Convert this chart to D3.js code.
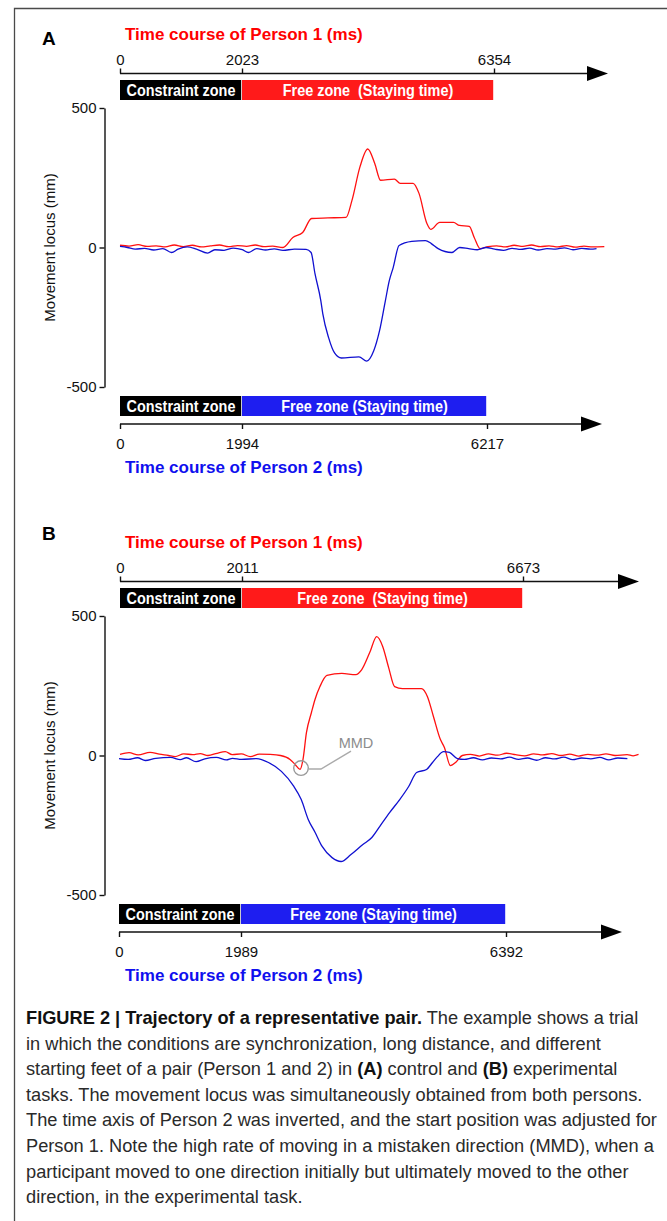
<!DOCTYPE html>
<html><head><meta charset="utf-8">
<script src="https://cdn.jsdelivr.net/npm/d3@7"></script>
<style>body{margin:0;background:#fff}svg{display:block}text{white-space:pre}</style>
</head><body>
<svg id="c" width="667" height="1221"></svg>
<script>
// ---------------- DATA ----------------
const yTicks = [-500, 0, 500];
const panelLetters = ["A", "B"];
const p1TicksA = [0, 2023, 6354];
const p2TicksA = [0, 1994, 6217];
const p1TicksB = [0, 2011, 6673];
const p2TicksB = [0, 1989, 6392];
const title1 = "Time course of Person 1 (ms)";
const title2 = "Time course of Person 2 (ms)";
const yTitle = "Movement locus (mm)";
const zone1 = "Constraint zone";
const zone2Top = "Free zone\u00a0 (Staying time)";
const zone2Bottom = "Free zone (Staying time)";
const mmdLabel = "MMD";
const mmdPoint = [2990, -45]; // Person 1 time (ms), locus (mm) in panel B

// [time (ms), movement locus (mm)]
const p1A = [[0,8],[150,5],[300,10],[450,4],[600,6],[750,2],[900,9],[1050,3],[1200,8],[1350,2],[1500,6],[1650,9],[1800,3],[1950,7],[2100,4],[2250,9],[2400,3],[2550,5],[2727,0],[2897,36],[3066,54],[3219,104],[3500,106],[3812,108],[3913,169],[4049,288],[4184,353],[4303,302],[4404,241],[4642,245],[4743,230],[4963,230],[5065,194],[5201,86],[5268,65],[5421,90],[5658,90],[5760,79],[5929,76],[6014,36],[6115,-4],[6250,3],[6400,6],[6550,2],[6700,8],[6850,4],[7000,9],[7150,3],[7300,6],[7450,2],[7600,7],[7750,1],[7900,5],[8050,2],[8250,3]];
const p2A = [[0,4],[120,0],[250,-6],[400,-3],[550,-9],[700,-4],[843,-18],[950,-6],[1100,2],[1250,-6],[1432,-20],[1550,-8],[1700,-10],[1850,-2],[2000,-8],[2106,-18],[2250,-4],[2400,-9],[2550,-5],[2700,-10],[2900,-6],[3100,-7],[3185,-18],[3252,-94],[3353,-191],[3387,-238],[3488,-324],[3589,-378],[3707,-396],[4010,-392],[4145,-407],[4263,-371],[4364,-299],[4465,-191],[4533,-119],[4600,-72],[4701,7],[4920,22],[5156,25],[5257,14],[5375,-4],[5611,-18],[5746,0],[5900,-4],[6050,-8],[6200,0],[6350,-6],[6500,-10],[6650,-3],[6800,-7],[6950,-2],[7100,-9],[7250,-4],[7400,-6],[7550,-1],[7700,-8],[7850,-3],[8000,-6],[8105,-4]];
const p1B = [[0,4],[150,10],[300,2],[496,11],[650,5],[800,0],[909,-4],[1050,6],[1200,3],[1322,7],[1450,0],[1600,8],[1735,14],[1850,3],[2000,6],[2148,-4],[2300,5],[2478,4],[2650,0],[2808,-14],[2891,-32],[2974,-50],[3023,-14],[3080,82],[3163,154],[3221,200],[3304,247],[3420,287],[3667,294],[3899,290],[3998,308],[4130,369],[4246,426],[4345,391],[4444,315],[4543,247],[4675,240],[4989,240],[5088,211],[5187,140],[5303,57],[5369,29],[5468,-36],[5567,-22],[5666,0],[5800,4],[5950,-2],[6100,6],[6250,1],[6400,8],[6550,3],[6700,-1],[6850,6],[7000,2],[7150,7],[7300,0],[7450,5],[7600,-2],[7750,4],[7900,1],[8050,6],[8200,0],[8400,3],[8500,-1],[8590,4]];
const p2B = [[0,-11],[150,-14],[300,-8],[430,-18],[600,-10],[843,-7],[1000,-15],[1100,-8],[1256,-22],[1400,-12],[1586,-7],[1750,-16],[1850,-10],[1999,-14],[2247,-11],[2445,-25],[2660,-57],[2858,-108],[2990,-158],[3106,-229],[3221,-276],[3337,-326],[3502,-366],[3651,-380],[3816,-355],[4014,-319],[4163,-294],[4296,-254],[4461,-204],[4626,-158],[4775,-111],[4907,-61],[5072,-50],[5171,-25],[5253,-4],[5353,14],[5452,11],[5584,-11],[5700,-14],[5850,-8],[6000,-16],[6150,-9],[6300,-12],[6450,-6],[6600,-14],[6750,-9],[6900,-17],[7050,-8],[7200,-12],[7350,-6],[7500,-15],[7650,-9],[7800,-12],[7950,-7],[8100,-16],[8250,-9],[8409,-11]];

const captionLines = [
  [["FIGURE 2 | Trajectory of a representative pair.", true], [" The example shows a trial", false]],
  [["in which the conditions are synchronization, long distance, and different", false]],
  [["starting feet of a pair (Person 1 and 2) in ", false], ["(A)", true], [" control and ", false], ["(B)", true], [" experimental", false]],
  [["tasks. The movement locus was simultaneously obtained from both persons.", false]],
  [["The time axis of Person 2 was inverted, and the start position was adjusted for", false]],
  [["Person 1. Note the high rate of moving in a mistaken direction (MMD), when a", false]],
  [["participant moved to one direction initially but ultimately moved to the other", false]],
  [["direction, in the experimental task.", false]]
];

// ---------------- LAYOUT ----------------
const FONT = "'Liberation Sans', Arial, Helvetica, sans-serif";
const RED = "#ff1a1a", BLUE = "#1e1ef0", LRED = "#ff1010", LBLUE = "#1010d0";
const panels = [
  {letter: panelLetters[0], p1: p1A, p2: p2A, t1: p1TicksA, t2: p2TicksA, r1: [120, 242, 494], r2: [120, 242, 487], tip1: 608, tip2: 602, dy: 0, letterY: 45},
  {letter: panelLetters[1], p1: p1B, p2: p2B, t1: p1TicksB, t2: p2TicksB, r1: [120, 242, 523], r2: [119, 241, 506], tip1: 639, tip2: 622, dy: 508, letterY: 540, mmd: true}
];

const svg = d3.select("#c");
svg.append("rect").attr("width", 667).attr("height", 1221).attr("fill", "#fff");
svg.append("path").attr("d", "M14.5,1221 V8.5 H667").attr("fill", "none").attr("stroke", "#4a4a4a").attr("stroke-width", 1.3);

function arrowAxis(g, x0, x1, yy) {
  g.append("line").attr("x1", x0).attr("x2", x1 - 16).attr("y1", yy).attr("y2", yy)
    .attr("stroke", "#111").attr("stroke-width", 1.6);
  g.append("path").attr("d", `M${x1 - 21},${yy - 7.5} L${x1},${yy} L${x1 - 21},${yy + 7.5} Z`).attr("fill", "#000");
}

function fitText(sel, ratio) {
  sel.each(function () {
    const w = this.getComputedTextLength();
    d3.select(this).attr("textLength", w * ratio).attr("lengthAdjust", "spacingAndGlyphs");
  });
}

const hyphenFmt = d => String(d); // plain hyphen-minus, as in the figure

panels.forEach(p => {
  const g = svg.append("g").attr("transform", `translate(0,${p.dy})`);
  const x1 = d3.scaleLinear().domain(p.t1).range(p.r1);
  const x2 = d3.scaleLinear().domain(p.t2).range(p.r2);
  const y = d3.scaleLinear().domain([-500, 500]).range([387, 108]);

  // panel letter
  svg.append("text").attr("x", 42).attr("y", p.letterY).text(p.letter)
    .attr("font-family", FONT).attr("font-weight", "bold").attr("font-size", 19).attr("fill", "#000");

  // titles
  g.append("text").attr("x", 125).attr("y", 40).text(title1)
    .attr("font-family", FONT).attr("font-weight", "bold").attr("font-size", 17).attr("fill", "#ff0000");
  g.append("text").attr("x", 125).attr("y", 473).text(title2)
    .attr("font-family", FONT).attr("font-weight", "bold").attr("font-size", 17).attr("fill", "#1010ee");

  // top axis (Person 1)
  arrowAxis(g, x1(0), p.tip1, 73.5);
  const axT = g.append("g").attr("transform", "translate(0,73.5)")
    .call(d3.axisTop(x1).tickValues(p.t1).tickSize(5).tickSizeOuter(0).tickPadding(4).tickFormat(hyphenFmt));
  axT.select(".domain").remove();
  axT.selectAll("line").attr("stroke", "#111").attr("stroke-width", 1.4);
  axT.selectAll("text").attr("font-family", FONT).attr("font-size", 15).attr("fill", "#111");

  // bottom axis (Person 2)
  arrowAxis(g, x2(0), p.tip2, 424);
  const axB = g.append("g").attr("transform", "translate(0,424)")
    .call(d3.axisBottom(x2).tickValues(p.t2).tickSize(5).tickSizeOuter(0).tickPadding(9).tickFormat(hyphenFmt));
  axB.select(".domain").remove();
  axB.selectAll("line").attr("stroke", "#111").attr("stroke-width", 1.4);
  axB.selectAll("text").attr("font-family", FONT).attr("font-size", 15).attr("fill", "#111");

  // zone bars
  const zones = [
    {x0: x1(p.t1[0]), x1: x1(p.t1[1]), y0: 80, h: 20, fill: "#000", label: zone1},
    {x0: x1(p.t1[1]), x1: x1(p.t1[2]), y0: 80, h: 20, fill: RED, label: zone2Top},
    {x0: x2(p.t2[0]), x1: x2(p.t2[1]), y0: 396, h: 20, fill: "#000", label: zone1},
    {x0: x2(p.t2[1]), x1: x2(p.t2[2]), y0: 396, h: 20, fill: BLUE, label: zone2Bottom}
  ];
  g.selectAll(".zone").data(zones).join("rect").attr("class", "zone")
    .attr("x", d => d.x0).attr("y", d => d.y0).attr("width", d => d.x1 - d.x0 - 0.8).attr("height", d => d.h)
    .attr("fill", d => d.fill);
  g.selectAll(".zlab").data(zones).join("text").attr("class", "zlab")
    .attr("x", d => (d.x0 + d.x1) / 2).attr("y", d => d.y0 + d.h / 2 + 5.8)
    .attr("text-anchor", "middle").attr("font-family", FONT).attr("font-weight", "bold")
    .attr("font-size", 16).attr("fill", "#fff").text(d => d.label)
    .call(fitText, 0.9);

  // y axis
  const axY = g.append("g").attr("transform", "translate(104.5,0)")
    .call(d3.axisLeft(y).tickValues(yTicks).tickSize(5).tickSizeOuter(0).tickPadding(3).tickFormat(hyphenFmt));
  axY.selectAll("path,line").attr("stroke", "#111").attr("stroke-width", 1.4);
  axY.selectAll("text").attr("font-family", FONT).attr("font-size", 15).attr("fill", "#111");
  g.append("text").attr("transform", `translate(55,${y(0)}) rotate(-90)`).attr("text-anchor", "middle")
    .attr("font-family", FONT).attr("font-size", 15).attr("fill", "#111").text(yTitle);

  // trajectories
  const line1 = d3.line().curve(d3.curveMonotoneX).x(d => x1(d[0])).y(d => y(d[1]));
  const line2 = d3.line().curve(d3.curveMonotoneX).x(d => x2(d[0])).y(d => y(d[1]));
  g.append("path").datum(p.p1).attr("d", line1).attr("fill", "none").attr("stroke", LRED).attr("stroke-width", 1.3).attr("stroke-linejoin", "round");
  g.append("path").datum(p.p2).attr("d", line2).attr("fill", "none").attr("stroke", LBLUE).attr("stroke-width", 1.3).attr("stroke-linejoin", "round");

  // MMD annotation
  if (p.mmd) {
    const cx = x1(mmdPoint[0]), cy = y(mmdPoint[1]);
    g.append("circle").attr("cx", cx).attr("cy", cy).attr("r", 7.3).attr("fill", "none").attr("stroke", "#999").attr("stroke-width", 1.4);
    g.append("path").attr("d", `M${cx + 7.5},${cy + 1} H${cx + 20} L${cx + 50},${cy - 17}`)
      .attr("fill", "none").attr("stroke", "#aaa").attr("stroke-width", 1.4);
    g.append("text").attr("x", cx + 55).attr("y", cy - 20).attr("text-anchor", "middle")
      .attr("font-family", FONT).attr("font-size", 14.5).attr("fill", "#8c8c8c").text(mmdLabel);
  }
});

// caption
const cap = svg.append("g");
const capX = 26, capY0 = 1024, capDY = 25.6, capTarget = 631;
const capTexts = cap.selectAll("text").data(captionLines).join("text")
  .attr("x", capX).attr("y", (d, i) => capY0 + i * capDY)
  .attr("font-family", FONT).attr("font-size", 16).attr("fill", "#2a2a2a");
capTexts.selectAll("tspan").data(d => d).join("tspan")
  .attr("font-weight", d => d[1] ? "bold" : "normal").attr("fill", d => d[1] ? "#111" : null)
  .text(d => d[0]);
const refW = capTexts.nodes()[4].getComputedTextLength();
capTexts.attr("font-size", 16 * capTarget / refW);
</script>
</body></html>
